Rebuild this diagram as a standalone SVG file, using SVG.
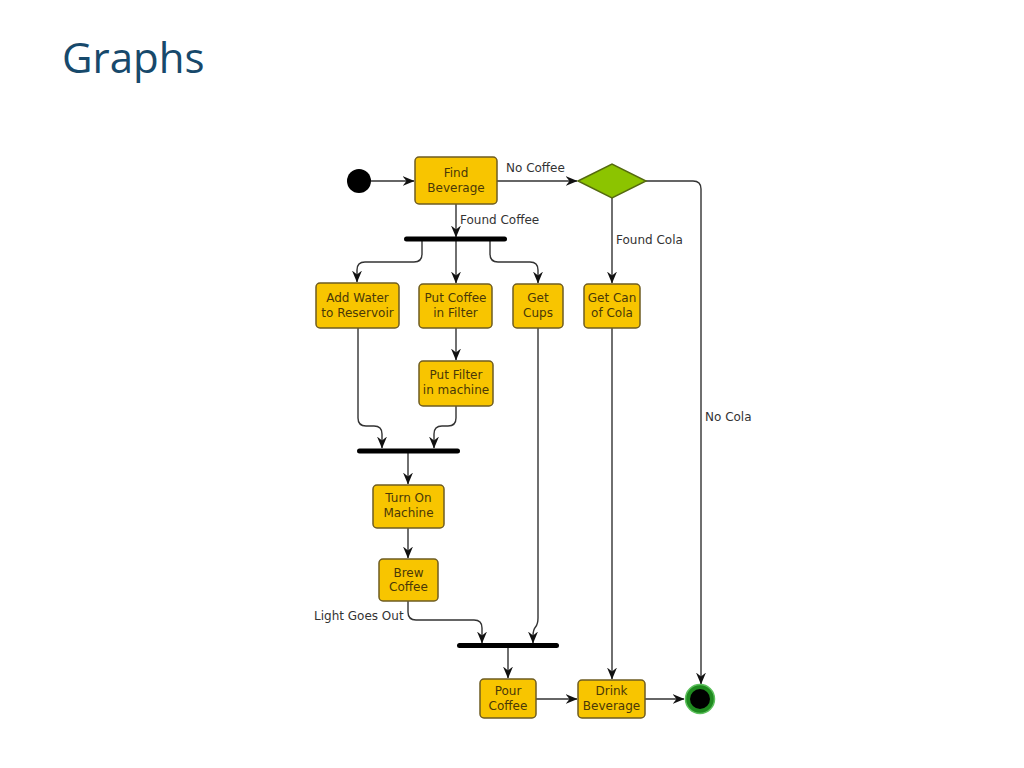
<svg xmlns="http://www.w3.org/2000/svg" width="1024" height="768" viewBox="0 0 1024 768">
<defs>
<style>
.node rect{fill:#f8c500;stroke:#6e5c22;stroke-width:1.5}
.node text{font-family:"DejaVu Sans",sans-serif;font-size:12px;fill:#4a3808;text-anchor:middle}
.lbl{font-family:"DejaVu Sans",sans-serif;font-size:12px;fill:#333}
.c{fill:none;stroke:#333;stroke-width:1.4}
.a{marker-end:url(#arr)}
.bar{fill:#000}
</style>
<marker id="arr" viewBox="0 0 12 12" refX="11.5" refY="6" markerWidth="12" markerHeight="12" markerUnits="userSpaceOnUse" orient="auto">
<path d="M0,1 L12,6 L0,11 L4,6 z" fill="#111"/>
</marker>
</defs>
<rect width="1024" height="768" fill="#fff"/>
<text x="62" y="73" font-family="'Open Sans',sans-serif" font-size="42" fill="#17496b">Graphs</text>

<g id="connectors">
<path class="c a" d="M371,181 H414"/>
<path class="c a" d="M497,181 H577"/>
<path class="c a" d="M646,181 H693 Q701,181 701,189 V684"/>
<path class="c a" d="M612,198 V283"/>
<path class="c a" d="M456,204 V237"/>
<path class="c a" d="M422,241 V254 Q422,262 414,262 H365 Q357,262 357,270 V282"/>
<path class="c a" d="M456,241 V283"/>
<path class="c a" d="M490,241 V254 Q490,262 498,262 H530 Q538,262 538,270 V283"/>
<path class="c a" d="M456,328 V360"/>
<path class="c a" d="M358,328 V418 Q358,426 366,426 H374 Q382,426 382,434 V448"/>
<path class="c a" d="M456,406 V418 Q456,426 448,426 H442 Q434,426 434,434 V448"/>
<path class="c a" d="M408,453 V484"/>
<path class="c a" d="M408,528 V558"/>
<path class="c a" d="M408,601 V612 Q408,620 416,620 H474 Q482,620 482,628 V643"/>
<path class="c a" d="M538,328 V618 Q538,624 535.5,627 Q533,630 533,636 V643"/>
<path class="c a" d="M508,648 V678"/>
<path class="c a" d="M536,699 H577"/>
<path class="c a" d="M612,328 V679"/>
<path class="c a" d="M645,699 H684"/>
<text class="lbl" x="506" y="172">No Coffee</text>
<text class="lbl" x="460" y="224">Found Coffee</text>
<text class="lbl" x="616" y="244">Found Cola</text>
<text class="lbl" x="705" y="421">No Cola</text>
<text class="lbl" x="314" y="620">Light Goes Out</text>
</g>

<g id="start"><circle cx="359" cy="181" r="12" fill="#000"/></g>
<g id="decision"><polygon points="578,181 612,164 646,181 612,198" fill="#8cc400" stroke="#556b10" stroke-width="1.5"/></g>
<g id="fork1"><rect class="bar" x="404" y="236.5" width="103" height="5" rx="2.5"/></g>
<g id="join1"><rect class="bar" x="357" y="448.5" width="103" height="5" rx="2.5"/></g>
<g id="join2"><rect class="bar" x="457" y="643" width="102" height="5" rx="2.5"/></g>
<g id="end"><circle cx="700" cy="699" r="14.5" fill="#1f8a1f" stroke="#5cc05c" stroke-width="1.5"/><circle cx="700" cy="699" r="10" fill="#000"/></g>

<g id="find-beverage" class="node"><rect x="415" y="157" width="82" height="47" rx="4"/><text x="456" y="177">Find</text><text x="456" y="192">Beverage</text></g>
<g id="add-water" class="node"><rect x="316" y="283" width="83" height="45" rx="4"/><text x="357.5" y="302">Add Water</text><text x="357.5" y="317">to Reservoir</text></g>
<g id="put-coffee" class="node"><rect x="419" y="284" width="73" height="44" rx="4"/><text x="455.5" y="302">Put Coffee</text><text x="455.5" y="317">in Filter</text></g>
<g id="get-cups" class="node"><rect x="513" y="284" width="50" height="44" rx="4"/><text x="538" y="302">Get</text><text x="538" y="317">Cups</text></g>
<g id="get-cola" class="node"><rect x="584" y="284" width="56" height="44" rx="4"/><text x="612" y="302">Get Can</text><text x="612" y="317">of Cola</text></g>
<g id="put-filter" class="node"><rect x="419" y="361" width="74" height="45" rx="4"/><text x="456" y="379">Put Filter</text><text x="456" y="394">in machine</text></g>
<g id="turn-on" class="node"><rect x="373" y="485" width="71" height="43" rx="4"/><text x="408.5" y="502">Turn On</text><text x="408.5" y="517">Machine</text></g>
<g id="brew" class="node"><rect x="379" y="559" width="59" height="42" rx="4"/><text x="408.5" y="577">Brew</text><text x="408.5" y="591">Coffee</text></g>
<g id="pour" class="node"><rect x="480" y="679" width="56" height="39" rx="4"/><text x="508" y="695">Pour</text><text x="508" y="710">Coffee</text></g>
<g id="drink" class="node"><rect x="578" y="680" width="67" height="38" rx="4"/><text x="611.5" y="695">Drink</text><text x="611.5" y="710">Beverage</text></g>
</svg>
